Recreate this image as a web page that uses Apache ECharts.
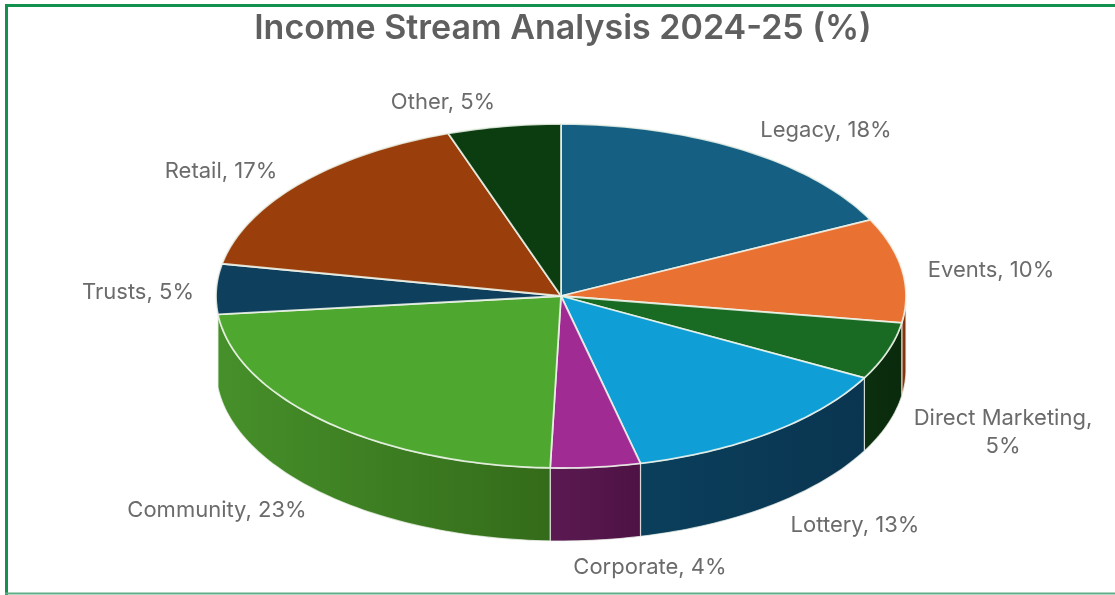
<!DOCTYPE html>
<html><head><meta charset="utf-8">
<style>html,body{margin:0;padding:0;background:#fff}#c{width:1115px;height:595px}</style>
<script src="https://cdn.jsdelivr.net/npm/echarts@6/dist/echarts.min.js"></script>
</head><body><div id="c"></div>
<script>
const categories = ['Legacy','Events','Direct Marketing','Lottery','Corporate','Community','Trusts','Retail','Other'];
const shownPercent = [18,10,5,13,4,23,5,17,5];
const sliceShare = [17.7,9.8,5.4,13.4,4.2,22.8,4.7,16.7,5.3];
const topColors = ['#156082','#E97132','#196B24','#0F9ED5','#A02B93','#4EA72E','#0E3F5C','#9A3F0C','#0B3D10'];
const sideLeft = ['#0D3B50','#8C3A12','#0B2F0F','#0A3F5C','#5B1A52','#46902A','#0E3F5C','#9A3F0C','#0B3D10'];
const sideRight = ['#0D3B50','#7C300C','#0A2A0C','#0A3550','#4E1244','#346B1A','#0E3F5C','#9A3F0C','#0B3D10'];
const labelPos = [[826,130],[991,270],[1003,432],[855,525],[650,567],[217,510],[138,292],[221,171],[443,102]];
const labelBreak = [false,false,true,false,false,false,false,false,false];

const cx=561, cy=296, rx=345, ry=172, depth=73;
const total = sliceShare.reduce((a,b)=>a+b,0);
let acc=0;
const rows = sliceShare.map((v,i)=>{const s=acc; acc+=v; return [i,s/total,acc/total];});
const wallStart=0.2530, wallEnd=rows[5][2];
const pt=(f,d)=>{const t=f*2*Math.PI; return [cx+rx*Math.sin(t), cy-ry*Math.cos(t)+(d||0)];};
function arc(a,b,d){const n=Math.max(2,Math.ceil((b-a)*300)); const p=[]; for(let k=0;k<=n;k++) p.push(pt(a+(b-a)*k/n,d)); return p;}

function renderItem(params,api){
  const i=api.value(0), a=api.value(1), b=api.value(2);
  const children=[];
  const lo=Math.max(a,wallStart), hi=Math.min(b,wallEnd);
  if(hi>lo){
    const front=arc(lo,hi,0), back=arc(lo,hi,depth).reverse();
    const x0=pt(hi)[0], x1=pt(lo)[0];
    children.push({type:'polygon',shape:{points:front.concat(back)},
      style:{fill:new echarts.graphic.LinearGradient(x0,0,x1,0,[{offset:0,color:sideLeft[i]},{offset:1,color:sideRight[i]}],true),
        stroke:'rgba(240,244,238,0.75)',lineWidth:1.2}});
  }
  children.push({type:'polygon',shape:{points:[[cx,cy]].concat(arc(a,b,0))},
    style:{fill:topColors[i],stroke:'rgba(240,246,236,0.85)',lineWidth:1.8,lineJoin:'round'}});
  return {type:'group',children};
}

const frame=[
  {points:[[6.5,4],[6.5,595]],color:'#13914F',width:3},
  {points:[[5,5.5],[1115,5.5]],color:'#13914F',width:3},
  {points:[[5,593.5],[1115,593.5]],color:'#5FAE85',width:2}
];
const chart=echarts.init(document.getElementById('c'),null,{renderer:'canvas'});
chart.setOption({
  animation:false,
  backgroundColor:'#fff',
  title:{text:'Income Stream Analysis 2024-25 (%)',left:558,top:7,textAlign:'center',
    textStyle:{fontFamily:'Inter',fontSize:34,fontWeight:600,color:'#5f5f5f'}},
  series:[{type:'custom',coordinateSystem:'none',renderItem,data:rows,silent:true}],
  graphic:[
    ...frame.map(f=>({type:'polyline',shape:{points:f.points},style:{stroke:f.color,lineWidth:f.width,fill:'none'},silent:true})),
    ...categories.map((c,i)=>({type:'text',x:labelPos[i][0],y:labelPos[i][1],z:10,silent:true,
      style:{text:c+','+(labelBreak[i]?'\n':' ')+shownPercent[i]+'%',align:'center',verticalAlign:'middle',fontFamily:'Inter',fontSize:22,lineHeight:28,fill:'#6b6b6b'}}))
  ]
});
</script></body></html>
